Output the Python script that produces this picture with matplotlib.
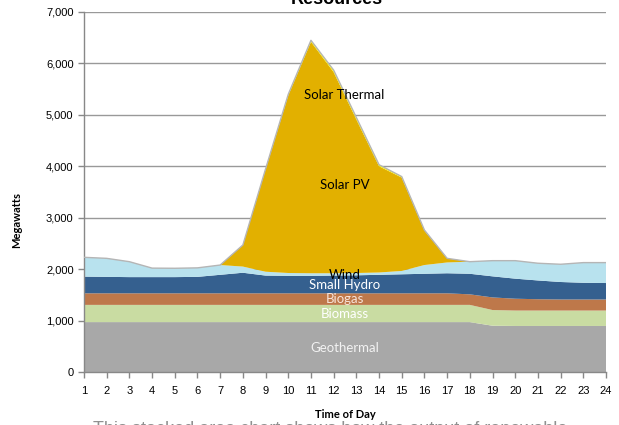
import matplotlib
matplotlib.use("Agg")
import matplotlib.pyplot as plt
import numpy as np

hours = list(range(1, 25))
# cumulative-top readings converted to series values (MW)
geothermal = [970]*18 + [900, 895, 895, 895, 895, 895]
biomass = [335]*18 + [305, 300, 300, 300, 300, 300]
biogas = [225]*17 + [205, 245, 230, 220, 215, 215, 215]
small_hydro = [325, 320, 315, 315, 315, 320, 360, 400, 345, 340, 340, 345, 350, 360, 370, 380,
               390, 400, 410, 390, 365, 340, 325, 320]
wind = [375, 360, 300, 175, 172, 175, 190, 120, 75, 55, 50, 45, 45, 45, 65, 170,
        210, 235, 305, 350, 335, 345, 392, 397]
solar_pv = [0, 0, 0, 0, 0, 0, 0, 420, 1989, 3455, 4500, 3910, 2985, 2065, 1815, 670,
            80, 0, 0, 0, 0, 0, 0, 0]
solar_thermal = [0, 0, 0, 0, 0, 0, 0, 0, 10, 20, 30, 40, 40, 30, 20, 10,
                 0, 0, 0, 0, 0, 0, 0, 0]

series = [geothermal, biomass, biogas, small_hydro, wind, solar_pv, solar_thermal]
names = ["Geothermal", "Biomass", "Biogas", "Small Hydro", "Wind", "Solar PV", "Solar Thermal"]
colors = ["#A8A8A8", "#C9DCA2", "#BE784A", "#35608F", "#B8E2EE", "#E2B000", "#FFFF00"]
label_y = [470, 1130, 1420, 1685, 1885, 3640, 5390]
label_colors = ["#F2F2F2", "#FFFFFF", "#F8E4DA", "#FFFFFF", "#000000", "#000000", "#000000"]
yticks = [0, 1000, 2000, 3000, 4000, 5000, 6000, 7000]

fig = plt.figure(figsize=(6.19, 4.25), dpi=100)
ax = fig.add_axes([84/619, 1-372/425, (606-84)/619, (372-12)/425])

for yv in yticks[1:]:
    ax.axhline(yv, color="#999999", lw=1.0, zorder=0)

ax.stackplot(hours, *series, colors=colors, linewidth=0, zorder=2)
total = np.sum(np.array(series), axis=0)
ax.plot(hours, total, color="#B5B5B5", lw=1.0, zorder=3)

for nm, yv, c in zip(names, label_y, label_colors):
    ax.text(12.48, yv, nm, ha="center", va="center", color=c, fontsize=9.5,
            family="Lato", zorder=5)

ax.set_xlim(1, 24)
ax.set_ylim(0, 7000)
ax.set_xticks(hours)
ax.set_xticklabels([str(h) for h in hours], family="Liberation Sans", fontsize=8)
ax.set_yticks(yticks)
ax.set_yticklabels([f"{v:,}" for v in yticks], family="Liberation Sans", fontsize=8)
ax.tick_params(axis="both", direction="out", length=4, color="#888888", width=1)
ax.tick_params(axis="x", pad=6)
for s in ["top", "right"]:
    ax.spines[s].set_visible(False)
for s in ["left", "bottom"]:
    ax.spines[s].set_color("#888888")
    ax.spines[s].set_linewidth(1.0)

fig.text(17/619, 1-220/425, "Megawatts", rotation=90, ha="center", va="center",
         fontsize=8, fontweight="bold", family="Lato")
fig.text(345/619, 1-415/425, "Time of Day", ha="center", va="center",
         fontsize=8, fontweight="bold", family="Lato")
fig.text(337/619, 1-4/425, "Resources", ha="center", va="baseline",
         fontsize=13, fontweight="bold", family="Liberation Sans")
fig.text(93/619, 1-421.5/425, "This stacked area chart shows how the output of renewable",
         ha="left", va="top", fontsize=13, color="#909090", family="Liberation Sans")

fig.savefig("out.png", dpi=100)
